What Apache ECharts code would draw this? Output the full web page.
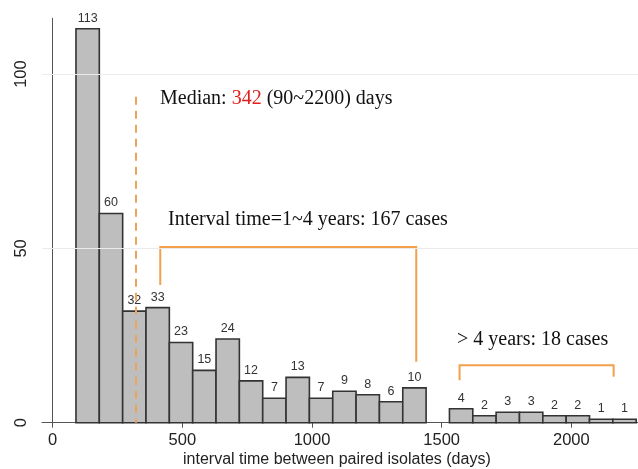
<!DOCTYPE html>
<html>
<head>
<meta charset="utf-8">
<script src="https://cdn.jsdelivr.net/npm/echarts@6/dist/echarts.min.js"></script>
<style>html,body{margin:0;padding:0;background:#fff}#c{width:638px;height:469px}</style>
</head>
<body>
<div id="c"></div>
<script>
// Histogram bins (days) and counts
var binStart = [90,180,270,360,450,540,630,720,810,900,990,1080,1170,1260,1350,1440,1530,1620,1710,1800,1890,1980,2070,2160];
var binWidth = 90;
var counts   = [113,60,32,33,23,15,24,12,7,13,7,9,8,6,10,0,4,2,3,3,2,2,1,1];
var xTicks = [0,500,1000,1500,2000];
var yTicks = [0,50,100];
var medianLineX = 322;   // where dashed line drawn in picture
var medianTop = 93.5;
// brackets: [xLeft, xRight, yTop, yLeftEnd, yRightEnd]
var bracket1 = [415, 1402, 50.4, 39.5, 17.5];
var bracket2 = [1569, 2163, 16.5, 12.2, 13.2];

var histData = [];
for (var i = 0; i < binStart.length; i++) {
  if (counts[i] > 0) histData.push([binStart[i], binStart[i] + binWidth, counts[i]]);
}

var chart = echarts.init(document.getElementById('c'), null, {renderer: 'canvas'});
var orange = '#F2A04C';
var labelFont = '"Liberation Sans", Arial, Helvetica, sans-serif';
var serif = '"Liberation Serif", "Times New Roman", serif';

chart.setOption({
  animation: false,
  grid: {left: 42, right: 0, top: 18.3, bottom: 46.3, containLabel: false},
  xAxis: {
    type: 'value', min: -41, max: 2257,
    axisLine: {show: true, onZero: false, lineStyle: {color: '#555', width: 1}},
    axisTick: {show: true, customValues: xTicks, length: 5, lineStyle: {color: '#555'}},
    axisLabel: {customValues: xTicks, fontSize: 16.5, color: '#222', fontFamily: labelFont, margin: 9,
      formatter: function (v) { return String(v); }},
    splitLine: {show: false}
  },
  yAxis: {
    type: 'value', min: 0, max: 116,
    axisLine: {show: true, lineStyle: {color: '#555', width: 1}},
    axisTick: {show: true, customValues: yTicks, length: 6, lineStyle: {color: '#555'}},
    axisLabel: {customValues: yTicks, rotate: 90, fontSize: 16.5, color: '#222', fontFamily: labelFont, margin: 12,
      formatter: function (v) { return String(v); }},
    splitLine: {show: false}
  },
  graphic: [
    {type: 'text', left: 183, top: 452, style: {text: 'interval time between paired isolates (days)', font: '16px ' + labelFont, fill: '#222'}},
    {type: 'text', left: 160, top: 89, style: {
      text: '{a|Median: }{r|342}{a| (90~2200) days}',
      rich: {a: {fontSize: 20, fontFamily: serif, fill: '#111'}, r: {fontSize: 20, fontFamily: serif, fill: '#E0201C'}}
    }},
    {type: 'text', left: 168, top: 210, style: {text: 'Interval time=1~4 years: 167 cases', font: '20px ' + serif, fill: '#111'}},
    {type: 'text', left: 457, top: 330, style: {text: '> 4 years: 18 cases', font: '20px ' + serif, fill: '#111'}}
  ],
  series: [
    {
      type: 'custom',
      data: histData,
      z: 3,
      renderItem: function (params, api) {
        var s = api.value(0), e = api.value(1), c = api.value(2);
        var p0 = api.coord([s, 0]);
        var p1 = api.coord([e, c]);
        return {
          type: 'group',
          children: [
            {type: 'rect', shape: {x: p0[0], y: p1[1], width: p1[0] - p0[0], height: p0[1] - p1[1]},
             style: {fill: '#BEBEBE', stroke: '#333', lineWidth: 1.6}},
            {type: 'text', x: (p0[0] + p1[0]) / 2, y: p1[1] - 4,
             style: {text: String(c), textAlign: 'center', textVerticalAlign: 'bottom', font: '12.5px ' + labelFont, fill: '#333'}}
          ]
        };
      },
      markLine: {
        silent: true, symbol: 'none', label: {show: false},
        lineStyle: {color: '#EBEBEB', width: 1, type: 'solid'},
        data: [{yAxis: 50}, {yAxis: 100}]
      }
    },
    {
      type: 'custom',
      data: [bracket1, bracket2],
      z: 4,
      renderItem: function (params, api) {
        var a = api.coord([api.value(0), api.value(3)]);
        var b = api.coord([api.value(0), api.value(2)]);
        var c = api.coord([api.value(1), api.value(2)]);
        var d = api.coord([api.value(1), api.value(4)]);
        return {type: 'polyline', shape: {points: [a, b, c, d]}, style: {stroke: orange, lineWidth: 2, fill: null}};
      }
    },
    {
      type: 'line',
      data: [],
      markLine: {
        silent: true, symbol: 'none', label: {show: false}, z: 5,
        lineStyle: {color: '#EBA35E', width: 2, type: [8, 6]},
        data: [[{coord: [medianLineX, medianTop]}, {coord: [medianLineX, 0]}]]
      }
    }
  ]
});
</script>
</body>
</html>
